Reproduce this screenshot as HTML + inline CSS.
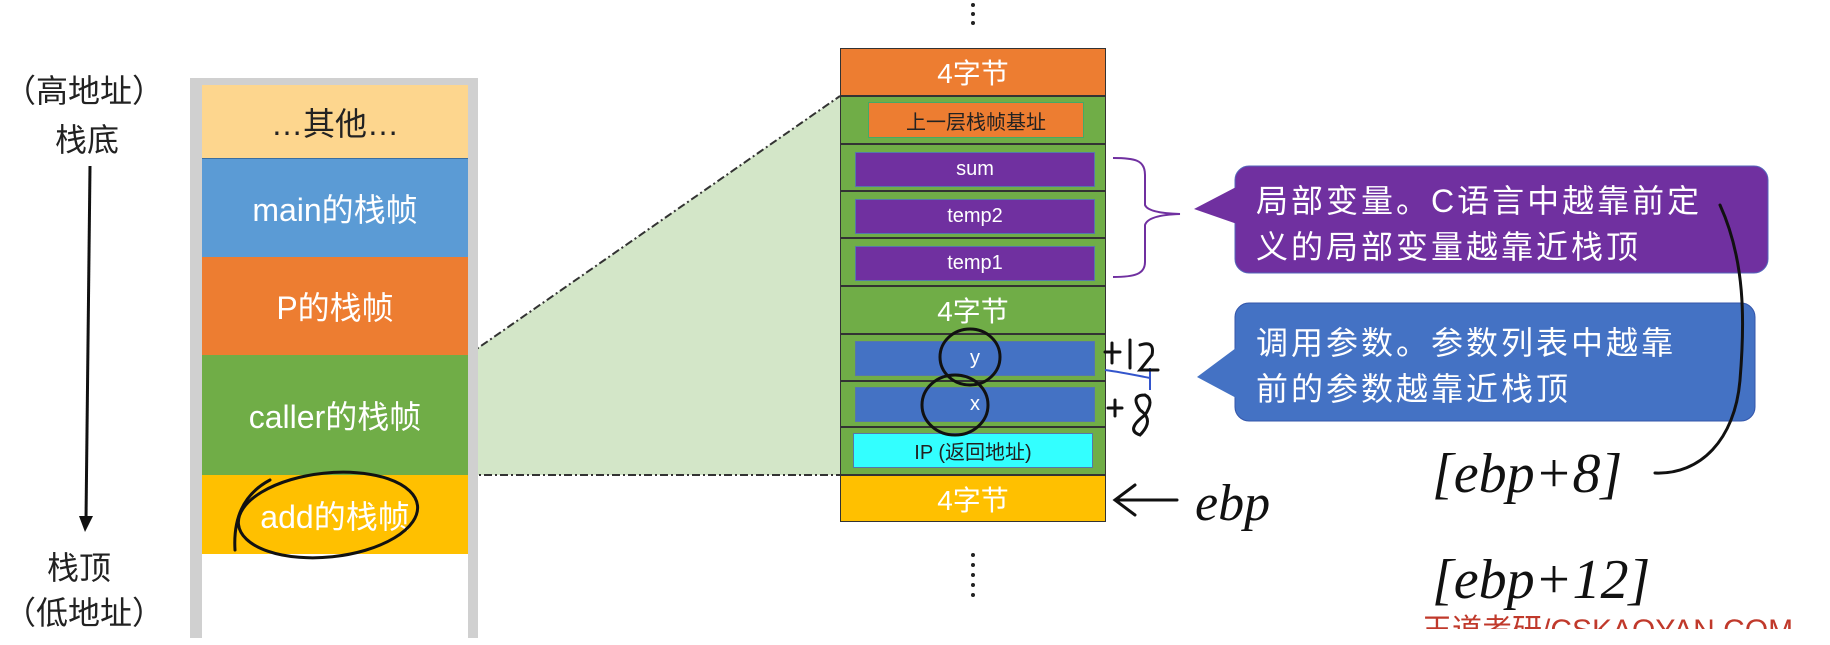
<!DOCTYPE html>
<html><head><meta charset="utf-8"><style>
body{margin:0;width:1830px;height:629px;background:#fff;position:relative;overflow:hidden;font-family:"Liberation Sans","Noto Sans CJK SC",sans-serif}
.a{position:absolute;box-sizing:border-box;display:flex;align-items:center;justify-content:center;color:#fff}
.t{position:absolute;color:#222;font-size:32px;white-space:nowrap}
</style></head><body>
<svg width="1830" height="629" style="position:absolute;left:0;top:0">
<polygon points="468,355 840,96 840,475 468,475" fill="#d3e6c8"/>
<line x1="468" y1="355" x2="840" y2="96" stroke="#333" stroke-width="2" stroke-dasharray="8,3,2,3"/>
<line x1="468" y1="475" x2="840" y2="475" stroke="#333" stroke-width="2" stroke-dasharray="8,3,2,3"/>
<line x1="468" y1="355" x2="468" y2="475" stroke="#333" stroke-width="2" stroke-dasharray="4,3"/>
</svg>
<div class="a" style="left:190px;top:78px;width:288px;height:560px;background:#d0d0d0"></div>
<div class="a" style="left:202px;top:85px;width:266px;height:560px;background:#fff"></div>
<div class="a" style="left:202px;top:85px;width:266px;height:73px;background:#fdd68e;color:#222;font-size:32px">…其他…</div>
<div class="a" style="left:202px;top:158px;width:266px;height:99px;background:#5b9bd5;font-size:32px;border-top:1px solid #3a6ea0">main的栈帧</div>
<div class="a" style="left:202px;top:257px;width:266px;height:98px;background:#ed7d31;font-size:32px">P的栈帧</div>
<div class="a" style="left:202px;top:355px;width:266px;height:120px;background:#70ad47;font-size:32px">caller的栈帧</div>
<div class="a" style="left:202px;top:475px;width:266px;height:79px;background:#ffc000;font-size:32px">add的栈帧</div>
<div class="t" style="left:4px;top:66px">（高地址）</div>
<div class="t" style="left:55px;top:115px">栈底</div>
<div class="t" style="left:47px;top:543px">栈顶</div>
<div class="t" style="left:4px;top:588px">（低地址）</div>

<div class="a" style="left:840px;top:48px;width:266px;height:48px;background:#ed7d31;border:1px solid #333;font-size:28px">4字节</div>
<div class="a" style="left:840px;top:96px;width:266px;height:48px;background:#70ad47;border:1px solid #333"></div>
<div class="a" style="left:868px;top:102px;width:216px;height:36px;background:#ed7d31;border:1px solid #4a6;color:#222;font-size:20px">上一层栈帧基址</div>
<div class="a" style="left:840px;top:144px;width:266px;height:47px;background:#70ad47;border:1px solid #333"></div>
<div class="a" style="left:855px;top:152px;width:240px;height:35px;background:#7030a0;border:1px solid #5577aa;font-size:20px">sum</div>
<div class="a" style="left:840px;top:191px;width:266px;height:47px;background:#70ad47;border:1px solid #333"></div>
<div class="a" style="left:855px;top:199px;width:240px;height:35px;background:#7030a0;border:1px solid #5577aa;font-size:20px">temp2</div>
<div class="a" style="left:840px;top:238px;width:266px;height:48px;background:#70ad47;border:1px solid #333"></div>
<div class="a" style="left:855px;top:246px;width:240px;height:35px;background:#7030a0;border:1px solid #5577aa;font-size:20px">temp1</div>
<div class="a" style="left:840px;top:286px;width:266px;height:48px;background:#70ad47;border:1px solid #333;font-size:28px">4字节</div>
<div class="a" style="left:840px;top:334px;width:266px;height:47px;background:#70ad47;border:1px solid #333"></div>
<div class="a" style="left:855px;top:341px;width:240px;height:35px;background:#4472c4;border:1px solid #5577aa;font-size:20px">y</div>
<div class="a" style="left:840px;top:381px;width:266px;height:46px;background:#70ad47;border:1px solid #333"></div>
<div class="a" style="left:855px;top:387px;width:240px;height:35px;background:#4472c4;border:1px solid #5577aa;font-size:20px">x</div>
<div class="a" style="left:840px;top:427px;width:266px;height:48px;background:#70ad47;border:1px solid #333"></div>
<div class="a" style="left:853px;top:433px;width:240px;height:35px;background:#33ffff;border:1px solid #5577aa;color:#222;font-size:20px">IP (返回地址)</div>
<div class="a" style="left:840px;top:475px;width:266px;height:47px;background:#ffc000;border:1px solid #333;font-size:28px">4字节</div>

<svg width="1830" height="629" style="position:absolute;left:0;top:0">
<g fill="#222"><circle cx="973" cy="5" r="2"/><circle cx="973" cy="14" r="2"/><circle cx="973" cy="23" r="2"/>
<circle cx="973" cy="555" r="2"/><circle cx="973" cy="565" r="2"/><circle cx="973" cy="575" r="2"/><circle cx="973" cy="585" r="2"/><circle cx="973" cy="595" r="2"/></g>
<line x1="90" y1="166" x2="86" y2="520" stroke="#111" stroke-width="3"/>
<polygon points="79,516 93,516 85,532" fill="#111"/>
<path d="M1113,158 C1135,158 1145,160 1145,175 L1145,205 Q1148,213 1180,214 Q1148,215 1145,225 L1145,262 C1145,274 1135,277 1113,277" fill="none" stroke="#7030a0" stroke-width="2"/>
<path d="M1105,370 Q1120,372 1150,378 M1150,368 L1150,390" stroke="#3355cc" stroke-width="2" fill="none"/>
<rect x="1235" y="166" width="533" height="107" rx="14" fill="#7030a0" stroke="#5566bb"/>
<polygon points="1240,185 1194,209 1240,225" fill="#7030a0"/>
<rect x="1235" y="303" width="520" height="118" rx="14" fill="#4472c4" stroke="#3355aa"/>
<polygon points="1240,345 1197,377 1240,400" fill="#4472c4"/>
<g fill="none" stroke="#111" stroke-width="3" stroke-linecap="round">
<ellipse cx="328" cy="515" rx="90" ry="42" transform="rotate(-6 328 515)"/>
<path d="M235,550 Q232,500 270,480"/>
<ellipse cx="970" cy="357" rx="30" ry="28"/>
<ellipse cx="955" cy="405" rx="33" ry="30"/>
<path d="M1115,500 h62 M1135,485 l-20,15 l20,15"/>
<path d="M1655,473 C1700,475 1735,440 1740,380 C1745,320 1745,260 1720,205"/>
<path d="M1105,352 h15 M1112,343 v20 M1130,340 v28 M1140,345 q15,-5 12,10 l-12,15 h18"/>
<path d="M1108,408 h14 M1115,400 v16 M1145,395 q-15,0 -5,15 q15,10 0,25 q-15,-5 5,-20 q10,-15 0,-20"/>
</g>
<text x="1195" y="520" font-family="Liberation Serif, serif" font-style="italic" font-size="52" fill="#111">ebp</text>
<text x="1432" y="492" font-family="Liberation Serif, serif" font-style="italic" font-size="56" fill="#111">[ebp+8]</text>
<text x="1432" y="598" font-family="Liberation Serif, serif" font-style="italic" font-size="56" fill="#111">[ebp+12]</text>
<text x="1422" y="640" font-family="Liberation Sans, Noto Sans CJK SC, sans-serif" font-size="30" fill="#c0392b">王道考研/CSKAOYAN.COM</text>
</svg>
<div class="t" style="left:1256px;top:178px;color:#fff;font-size:32px;letter-spacing:3px;line-height:46px">局部变量。C语言中越靠前定<br>义的局部变量越靠近栈顶</div>
<div class="t" style="left:1256px;top:320px;color:#fff;font-size:32px;letter-spacing:3px;line-height:46px">调用参数。参数列表中越靠<br>前的参数越靠近栈顶</div>
</body></html>
